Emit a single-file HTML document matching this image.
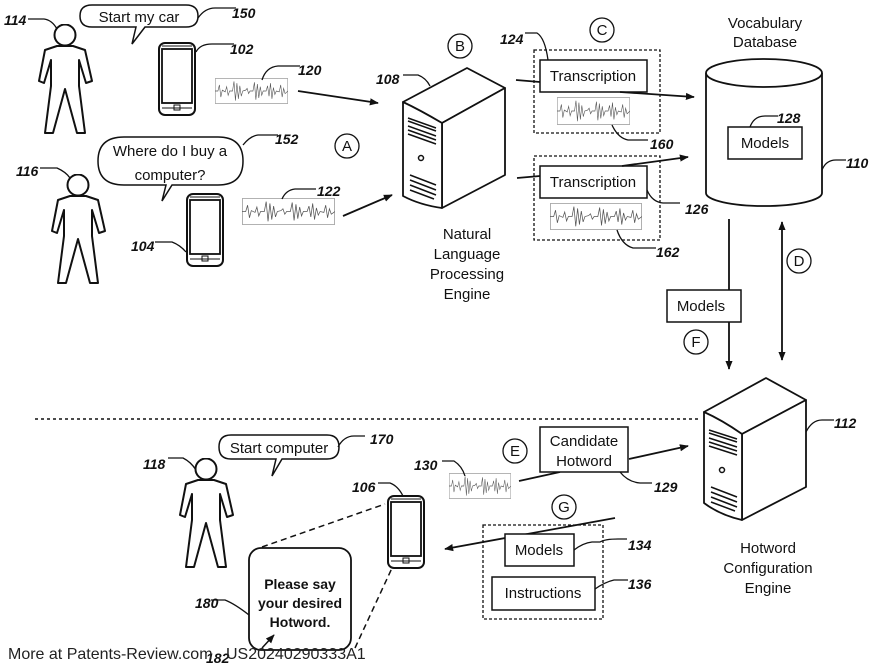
<!DOCTYPE html>
<html><head><meta charset="utf-8"><style>
html,body{margin:0;padding:0;background:#fff;}
svg{display:block;}
text{font-family:"Liberation Sans",sans-serif;fill:#111;}
.n{font-style:italic;font-weight:bold;font-size:14px;}
.t{font-size:15px;}
</style></head><body>
<svg width="880" height="671" viewBox="0 0 880 671" xmlns="http://www.w3.org/2000/svg">
<defs>
<symbol id="wave" viewBox="0 0 100 30" preserveAspectRatio="none">
<rect x="0.5" y="0.5" width="99" height="29" fill="none" stroke="#aaa" stroke-width="1"/>
<path d="M0,15 L4,15 L6,8 L8,22 L10,14 L14,16 L16,10 L18,20 L20,15 L24,15 L26,4 L28,26 L30,6 L32,24 L34,9 L36,21 L38,15 L42,14 L44,12 L46,18 L48,15 L52,15 L54,5 L56,25 L58,7 L60,23 L62,10 L64,20 L66,15 L70,15 L72,9 L74,21 L76,6 L78,24 L80,11 L82,19 L84,15 L88,16 L90,8 L92,22 L94,12 L96,18 L100,15" fill="none" stroke="#555" stroke-width="0.8"/>
</symbol>
<symbol id="person" viewBox="0 0 55 110">
<circle cx="27" cy="11" r="10.5" fill="#fff" stroke="#111" stroke-width="2"/>
<path d="M19,22 L7,26 L1,57 L6,59 L13,36 L13,62 L7,109 L15,109 L27,65 L39,109 L47,109 L41,62 L41,36 L48,59 L54,57 L47,26 L35,22 Z" fill="#fff" stroke="#111" stroke-width="2" stroke-linejoin="round"/>
</symbol>
<symbol id="phone" viewBox="0 0 38 74">
<rect x="1" y="1" width="36" height="72" rx="6" fill="#fff" stroke="#111" stroke-width="2"/>
<rect x="4" y="7" width="30" height="54" fill="#fff" stroke="#111" stroke-width="1.8"/>
<line x1="4" y1="4" x2="34" y2="4" stroke="#111" stroke-width="1"/>
<line x1="4" y1="66" x2="34" y2="66" stroke="#111" stroke-width="1"/>
<rect x="16" y="63" width="6" height="5" fill="none" stroke="#111" stroke-width="1"/>
</symbol>
<marker id="ah" viewBox="0 0 10 10" refX="9" refY="5" markerWidth="9" markerHeight="9" orient="auto-start-reverse" markerUnits="userSpaceOnUse">
<path d="M0,1 L10,5 L0,9 Z" fill="#111"/>
</marker>
</defs>

<!-- persons -->
<use href="#person" x="38" y="24" width="55" height="110"/>
<use href="#person" x="51" y="174" width="55" height="110"/>
<use href="#person" x="179" y="458" width="55" height="110"/>

<!-- phones -->
<use href="#phone" x="158" y="42" width="38" height="74"/>
<use href="#phone" x="186" y="193" width="38" height="74"/>
<use href="#phone" x="387" y="495" width="38" height="74"/>

<!-- waves -->
<use href="#wave" x="215" y="78" width="73" height="26"/>
<use href="#wave" x="242" y="198" width="93" height="27"/>
<use href="#wave" x="557" y="97" width="73" height="28"/>
<use href="#wave" x="550" y="203" width="92" height="27"/>
<use href="#wave" x="449" y="473" width="62" height="26"/>

<!-- speech bubbles -->
<path d="M92,5 L186,5 Q198,5 198,16 Q198,27 186,27 L145,27 L132,44 L136,27 L92,27 Q80,27 80,16 Q80,5 92,5 Z" fill="#fff" stroke="#111" stroke-width="1.5"/>
<text x="139" y="22" class="t" text-anchor="middle">Start my car</text>
<path d="M124,137 L218,137 Q243,137 243,161 Q243,185 218,185 L172,185 L162,201 L166,185 L124,185 Q98,185 98,161 Q98,137 124,137 Z" fill="#fff" stroke="#111" stroke-width="1.5"/>
<text x="170" y="156" class="t" text-anchor="middle">Where do I buy a</text>
<text x="170" y="180" class="t" text-anchor="middle">computer?</text>
<path d="M231,435 L327,435 Q339,435 339,447 Q339,459 327,459 L282,459 L272,476 L276,459 L231,459 Q219,459 219,447 Q219,435 231,435 Z" fill="#fff" stroke="#111" stroke-width="1.5"/>
<text x="279" y="453" class="t" text-anchor="middle">Start computer</text>

<!-- server 108 -->
<g fill="#fff" stroke="#111" stroke-width="1.8" stroke-linejoin="round">
<path d="M403,102 L467,68 L505,88 L442,123 Z"/>
<path d="M442,123 L505,88 L505,175 L442,208 Z"/>
<path d="M403,102 Q420,110 442,123 L442,208 Q420,205 403,196 Z"/>
</g>
<g stroke="#111" stroke-width="1.5" fill="none">
<path d="M408,118 L436,128 M408,121 L436,131 M408,126 L436,136 M408,130 L436,140 M408,134 L436,144"/>
<circle cx="421" cy="158" r="2.5"/>
<path d="M410,175 L436,185 M410,180 L436,190 M410,185 L436,195 M410,190 L434,199"/>
</g>
<!-- server 112 -->
<g fill="#fff" stroke="#111" stroke-width="1.8" stroke-linejoin="round">
<path d="M704,412 L766,378 L806,400 L742,434 Z"/>
<path d="M742,434 L806,400 L806,487 L742,520 Z"/>
<path d="M704,412 Q722,420 742,434 L742,520 Q720,515 704,503 Z"/>
</g>
<g stroke="#111" stroke-width="1.5" fill="none">
<path d="M709,430 L737,439 M709,433 L737,442 M709,438 L737,447 M709,442 L737,451 M709,446 L737,455"/>
<circle cx="722" cy="470" r="2.5"/>
<path d="M711,487 L737,497 M711,492 L737,502 M711,497 L737,507 M711,502 L735,511"/>
</g>

<!-- cylinder 110 -->
<path d="M706,73 L706,193 A58,13 0 0 0 822,193 L822,73" fill="#fff" stroke="#111" stroke-width="1.8"/>
<ellipse cx="764" cy="73" rx="58" ry="14" fill="#fff" stroke="#111" stroke-width="1.8"/>
<rect x="728" y="127" width="74" height="32" fill="#fff" stroke="#111" stroke-width="1.5"/>
<text x="765" y="148" class="t" text-anchor="middle">Models</text>
<text x="765" y="28" class="t" text-anchor="middle">Vocabulary</text>
<text x="765" y="47" class="t" text-anchor="middle">Database</text>

<!-- NLP label -->
<g class="t" text-anchor="middle">
<text x="467" y="239" class="t">Natural</text>
<text x="467" y="259" class="t">Language</text>
<text x="467" y="279" class="t">Processing</text>
<text x="467" y="299" class="t">Engine</text>
<text x="768" y="553" class="t">Hotword</text>
<text x="768" y="573" class="t">Configuration</text>
<text x="768" y="593" class="t">Engine</text>
</g>

<!-- dashed groups C -->
<rect x="534" y="50" width="126" height="83" fill="none" stroke="#111" stroke-width="1.3" stroke-dasharray="3,2"/>
<rect x="534" y="156" width="126" height="84" fill="none" stroke="#111" stroke-width="1.3" stroke-dasharray="3,2"/>
<rect x="540" y="60" width="107" height="32" fill="#fff" stroke="#111" stroke-width="1.5"/>
<text x="593" y="81" class="t" text-anchor="middle">Transcription</text>
<rect x="540" y="166" width="107" height="32" fill="#fff" stroke="#111" stroke-width="1.5"/>
<text x="593" y="187" class="t" text-anchor="middle">Transcription</text>

<!-- arrows -->
<g stroke="#111" stroke-width="1.8" fill="none">
<line x1="298" y1="91" x2="378" y2="103" marker-end="url(#ah)"/>
<line x1="343" y1="216" x2="392" y2="195" marker-end="url(#ah)"/>
<line x1="516" y1="80" x2="540" y2="82"/>
<line x1="620" y1="92" x2="694" y2="97" marker-end="url(#ah)"/>
<line x1="517" y1="178" x2="540" y2="176"/>
<line x1="622" y1="166" x2="688" y2="157" marker-end="url(#ah)"/>
<line x1="729" y1="219" x2="729" y2="290"/>
<line x1="729" y1="322" x2="729" y2="369" marker-end="url(#ah)"/>
<line x1="782" y1="222" x2="782" y2="360" marker-start="url(#ah)" marker-end="url(#ah)"/>
<line x1="519" y1="481" x2="560" y2="472"/>
<line x1="629" y1="459" x2="688" y2="446" marker-end="url(#ah)"/>
<line x1="615" y1="518" x2="445" y2="549" marker-end="url(#ah)"/>
</g>

<!-- Models F -->
<rect x="667" y="290" width="74" height="32" fill="#fff" stroke="#111" stroke-width="1.5"/>
<text x="701" y="311" class="t" text-anchor="middle">Models</text>

<!-- dotted separator -->
<line x1="35" y1="419" x2="700" y2="419" stroke="#111" stroke-width="1.5" stroke-dasharray="3,3"/>

<!-- candidate hotword -->
<rect x="540" y="427" width="88" height="45" fill="#fff" stroke="#111" stroke-width="1.5"/>
<text x="584" y="446" class="t" text-anchor="middle">Candidate</text>
<text x="584" y="466" class="t" text-anchor="middle">Hotword</text>

<!-- G group -->
<rect x="483" y="525" width="120" height="94" fill="none" stroke="#111" stroke-width="1.3" stroke-dasharray="3,2"/>
<rect x="505" y="534" width="69" height="32" fill="#fff" stroke="#111" stroke-width="1.5"/>
<text x="539" y="555" class="t" text-anchor="middle">Models</text>
<rect x="492" y="577" width="103" height="33" fill="#fff" stroke="#111" stroke-width="1.5"/>
<text x="543" y="598" class="t" text-anchor="middle">Instructions</text>

<!-- screen 180 -->
<line x1="262" y1="547" x2="385" y2="504" stroke="#111" stroke-width="1.5" stroke-dasharray="6,4"/>
<line x1="355" y1="648" x2="392" y2="568" stroke="#111" stroke-width="1.5" stroke-dasharray="6,4"/>
<rect x="249" y="548" width="102" height="102" rx="12" fill="#fff" stroke="#111" stroke-width="1.8"/>
<g font-weight="bold" font-size="14" text-anchor="middle">
<text x="300" y="589" font-weight="bold" font-size="14">Please say</text>
<text x="300" y="608" font-weight="bold" font-size="14">your desired</text>
<text x="300" y="627" font-weight="bold" font-size="14">Hotword.</text>
</g>
<line x1="262" y1="648" x2="274" y2="635" stroke="#111" stroke-width="1.5" marker-end="url(#ah)"/>

<!-- circles -->
<g fill="#fff" stroke="#111" stroke-width="1.3">
<circle cx="347" cy="146" r="12"/><circle cx="460" cy="46" r="12"/><circle cx="602" cy="30" r="12"/>
<circle cx="799" cy="261" r="12"/><circle cx="696" cy="342" r="12"/><circle cx="515" cy="451" r="12"/><circle cx="564" cy="507" r="12"/>
</g>
<g class="t" text-anchor="middle">
<text x="347" y="151" class="t">A</text><text x="460" y="51" class="t">B</text><text x="602" y="35" class="t">C</text>
<text x="799" y="266" class="t">D</text><text x="696" y="347" class="t">F</text><text x="515" y="456" class="t">E</text><text x="564" y="512" class="t">G</text>
</g>

<!-- leaders -->
<g stroke="#111" stroke-width="1.3" fill="none">
<path d="M28,19 L44,19 Q52,20 57,29"/>
<path d="M198,18 Q205,8 215,8 L236,8"/>
<path d="M196,52 Q200,44 212,44 L234,44"/>
<path d="M262,80 Q266,67 278,66 L300,66"/>
<path d="M403,75 L418,75 Q426,78 430,86"/>
<path d="M525,33 L537,33 Q545,38 548,60"/>
<path d="M612,125 Q618,138 628,140 L648,140"/>
<path d="M243,145 Q250,136 258,135 L278,135"/>
<path d="M40,168 L57,168 Q66,172 70,178"/>
<path d="M282,199 Q286,190 295,189 L316,189"/>
<path d="M155,242 L172,242 Q180,245 186,252"/>
<path d="M647,190 Q652,202 663,203 L680,203"/>
<path d="M617,230 Q622,245 633,248 L656,248"/>
<path d="M822,170 Q826,160 836,160 L846,160"/>
<path d="M750,127 Q754,116 765,116 L778,116"/>
<path d="M806,432 Q812,420 822,420 L834,420"/>
<path d="M168,458 L183,458 Q191,462 196,470"/>
<path d="M378,483 L390,483 Q398,486 403,496"/>
<path d="M442,461 L454,461 Q462,466 465,476"/>
<path d="M338,447 Q344,436 354,436 L365,436"/>
<path d="M620,472 Q628,482 640,483 L652,483"/>
<path d="M574,550 Q583,543 592,542 L600,542 Q605,539 618,539 L627,539"/>
<path d="M595,589 Q605,582 614,580 L628,580"/>
<path d="M211,600 L225,600 Q235,604 249,615"/>
</g>
<g class="n">
<text x="4" y="25" class="n">114</text>
<text x="232" y="18" class="n">150</text>
<text x="230" y="54" class="n">102</text>
<text x="298" y="75" class="n">120</text>
<text x="376" y="84" class="n">108</text>
<text x="500" y="44" class="n">124</text>
<text x="650" y="149" class="n">160</text>
<text x="275" y="144" class="n">152</text>
<text x="16" y="176" class="n">116</text>
<text x="317" y="196" class="n">122</text>
<text x="131" y="251" class="n">104</text>
<text x="685" y="214" class="n">126</text>
<text x="656" y="257" class="n">162</text>
<text x="846" y="168" class="n">110</text>
<text x="777" y="123" class="n">128</text>
<text x="834" y="428" class="n">112</text>
<text x="143" y="469" class="n">118</text>
<text x="352" y="492" class="n">106</text>
<text x="414" y="470" class="n">130</text>
<text x="370" y="444" class="n">170</text>
<text x="654" y="492" class="n">129</text>
<text x="628" y="550" class="n">134</text>
<text x="628" y="589" class="n">136</text>
<text x="195" y="608" class="n">180</text>
<text x="206" y="663" class="n">182</text>
</g>
<text x="8" y="659" font-size="16" style="fill:#222">More at Patents-Review.com</text>
<text x="226" y="659" font-size="16" style="fill:#222">US20240290333A1</text>
</svg>
</body></html>
